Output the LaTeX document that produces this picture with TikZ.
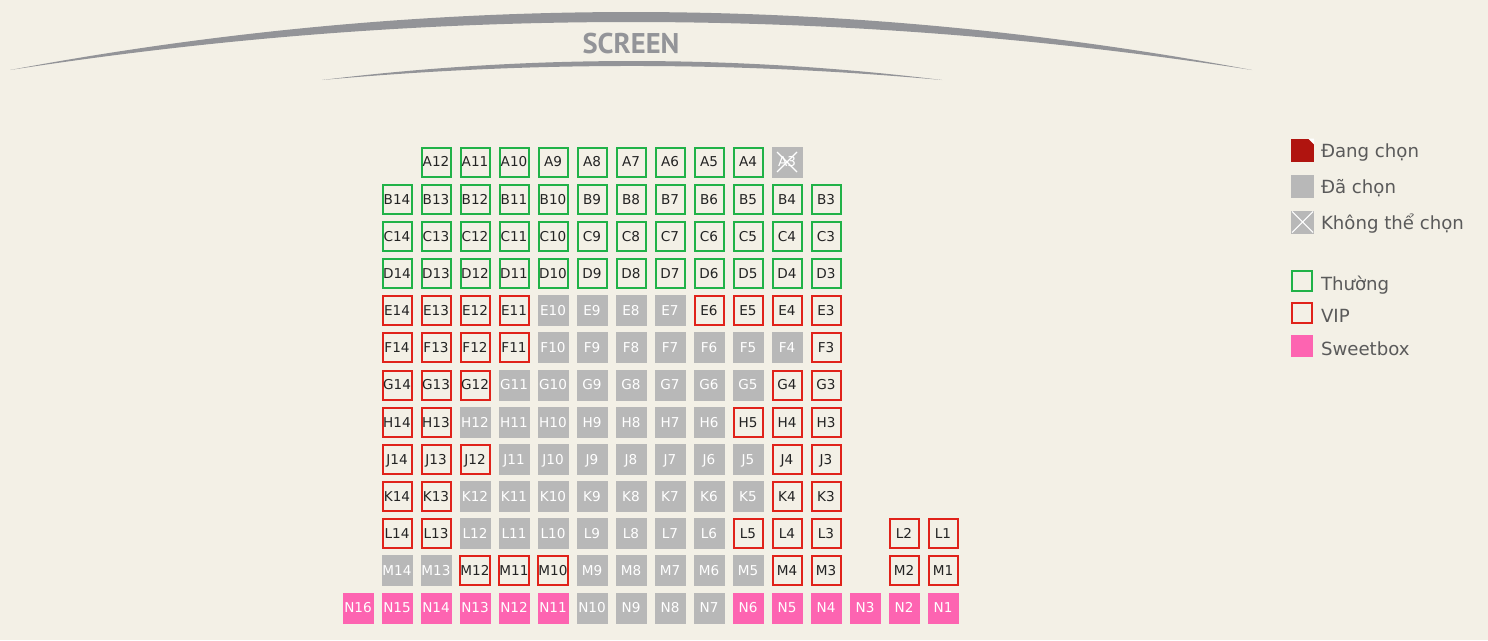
\documentclass[tikz,border=0pt]{standalone}
\usepackage{fontspec}
\setmainfont{DejaVu Sans}
\newfontfamily\screenfont{PT Sans}
\definecolor{bg}{RGB}{243,240,230}
\definecolor{seatgray}{RGB}{184,184,184}
\definecolor{seatgreen}{RGB}{32,178,72}
\definecolor{seatred}{RGB}{224,34,26}
\definecolor{seatpink}{RGB}{253,100,177}
\definecolor{selred}{RGB}{176,20,15}
\definecolor{scrgray}{RGB}{147,148,152}
\definecolor{txtdark}{RGB}{35,35,35}
\definecolor{legtxt}{RGB}{90,90,90}
\newcommand\seatrow[4]{%
  \foreach \sn/\st in {#4} {%
    \node[seat\st] (#1\sn) at ({(#3-\sn)*39+358},{#2}) {#1\sn};
  }%
}
\begin{document}
\begin{tikzpicture}[x=0.75pt,y=-0.75pt,
  seatbase/.style={inner sep=0pt, outer sep=0pt, font=\fontsize{10.2}{12}\selectfont, text height=7.4pt, text depth=0pt},
  seatg/.style={seatbase, draw=seatgreen, line width=1.5pt, minimum size=21.75pt, text=txtdark},
  seatr/.style={seatbase, draw=seatred, line width=1.5pt, minimum size=21.75pt, text=txtdark},
  seats/.style={seatbase, fill=seatgray, minimum size=23.25pt, text=white},
  seatx/.style={seats},
  seatp/.style={seatbase, fill=seatpink, minimum size=23.25pt, text=white},
  legfill/.style={inner sep=0pt, outer sep=0pt, minimum size=17.25pt},
  legline/.style={inner sep=0pt, outer sep=0pt, minimum size=14.8pt, line width=1.7pt},
  legtext/.style={anchor=west, inner sep=0pt, outer sep=0pt, text=legtxt, font=\fontsize{13.6}{16}\selectfont, text height=9.9pt, text depth=0pt},
]
\fill[bg] (0,0) rectangle (1488,640);
\useasboundingbox (0,0) rectangle (1488,640);

% screen
\fill[scrgray] (10,70) .. controls (424,-7.3) and (838,-7.3) .. (1252,70)
  .. controls (838,6) and (424,6) .. (10,70) -- cycle;
\fill[scrgray] (322,80) .. controls (528.7,54.7) and (735.3,54.7) .. (942,80)
  .. controls (735.3,61.3) and (528.7,61.3) .. (322,80) -- cycle;
\node[text=scrgray, inner sep=0pt, font=\screenfont\bfseries\fontsize{21.4}{24}\selectfont, text height=15pt, text depth=0pt] (screen) at (631,43) {SCREEN};

% seats
\seatrow{A}{162}{14}{12/g,11/g,10/g,9/g,8/g,7/g,6/g,5/g,4/g,3/x}
\seatrow{B}{199.2}{15}{14/g,13/g,12/g,11/g,10/g,9/g,8/g,7/g,6/g,5/g,4/g,3/g}
\seatrow{C}{236.3}{15}{14/g,13/g,12/g,11/g,10/g,9/g,8/g,7/g,6/g,5/g,4/g,3/g}
\seatrow{D}{273.5}{15}{14/g,13/g,12/g,11/g,10/g,9/g,8/g,7/g,6/g,5/g,4/g,3/g}
\seatrow{E}{310.7}{15}{14/r,13/r,12/r,11/r,10/s,9/s,8/s,7/s,6/r,5/r,4/r,3/r}
\seatrow{F}{347.9}{15}{14/r,13/r,12/r,11/r,10/s,9/s,8/s,7/s,6/s,5/s,4/s,3/r}
\seatrow{G}{385}{15}{14/r,13/r,12/r,11/s,10/s,9/s,8/s,7/s,6/s,5/s,4/r,3/r}
\seatrow{H}{422.2}{15}{14/r,13/r,12/s,11/s,10/s,9/s,8/s,7/s,6/s,5/r,4/r,3/r}
\seatrow{J}{459.4}{15}{14/r,13/r,12/r,11/s,10/s,9/s,8/s,7/s,6/s,5/s,4/r,3/r}
\seatrow{K}{496.5}{15}{14/r,13/r,12/s,11/s,10/s,9/s,8/s,7/s,6/s,5/s,4/r,3/r}
\seatrow{L}{533.7}{15}{14/r,13/r,12/s,11/s,10/s,9/s,8/s,7/s,6/s,5/r,4/r,3/r}
\seatrow{L}{533.7}{16}{2/r,1/r}
\seatrow{M}{570.9}{15}{14/s,13/s,12/r,11/r,10/r,9/s,8/s,7/s,6/s,5/s,4/r,3/r}
\seatrow{M}{570.9}{16}{2/r,1/r}
\seatrow{N}{608}{16}{16/p,15/p,14/p,13/p,12/p,11/p,10/s,9/s,8/s,7/s,6/p,5/p,4/p,3/p,2/p,1/p}
\draw[white, line width=0.9pt] ([shift={(-10,-10)}]A3.center) -- ([shift={(10,10)}]A3.center)
  ([shift={(-10,10)}]A3.center) -- ([shift={(10,-10)}]A3.center);

% legend
\node[legfill, fill=selred] (legsel) at (1302.5,150) {};
\fill[white] (legsel.north east) -- ++(-6,0) -- ++(6,6) -- cycle;
\node[legfill, fill=seatgray] (legsold) at (1302.5,186) {};
\node[legfill, fill=seatgray] (legna) at (1302.5,222) {};
\draw[white, line width=0.8pt] ([shift={(1,1)}]legna.north west) -- ([shift={(-1,-1)}]legna.south east)
  ([shift={(-1,1)}]legna.north east) -- ([shift={(1,-1)}]legna.south west);
\node[legline, draw=seatgreen] (legnorm) at (1302,281) {};
\node[legline, draw=seatred] (legvip) at (1302,313) {};
\node[legfill, fill=seatpink, minimum size=16.5pt] (legsweet) at (1302,346) {};

\node[legtext] (tsel) at (1321,151) {Đang chọn};
\node[legtext] (tsold) at (1321,187) {Đã chọn};
\node[legtext] (tna) at (1321,223) {Không thể chọn};
\node[legtext] (tnorm) at (1321,284) {Thường};
\node[legtext] (tvip) at (1321,316) {VIP};
\node[legtext] (tsweet) at (1321,349) {Sweetbox};
\end{tikzpicture}
\end{document}
